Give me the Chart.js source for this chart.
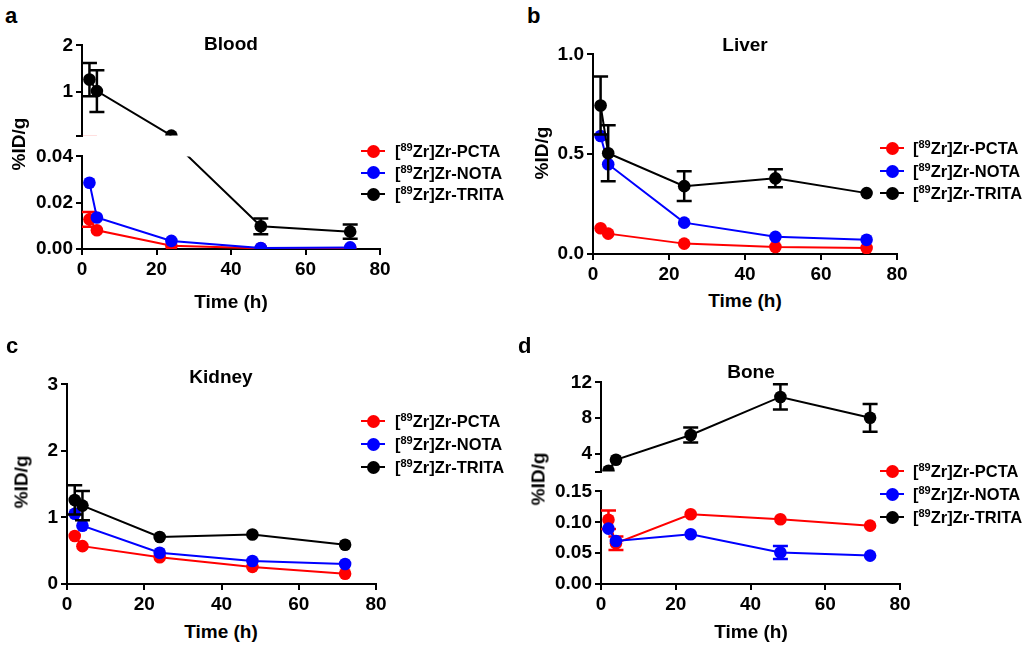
<!DOCTYPE html>
<html>
<head>
<meta charset="utf-8">
<script src="https://cdn.jsdelivr.net/npm/chart.js@4.4.1/dist/chart.umd.min.js"></script>
<style>
  body { margin: 0; background: #fff; }
  #fig { position: relative; width: 1030px; height: 647px; overflow: hidden;
         font-family: "Liberation Sans", Arial, sans-serif; font-weight: bold; color: #000; }
  #fig canvas { position: absolute; }
  .txt { position: absolute; white-space: nowrap; line-height: 1; }
  .ctr { transform: translate(-50%, -50%); }
  .rot { transform: translate(-50%, -50%) rotate(-90deg); }
  .letter { font-size: 22px; }
  .title { font-size: 19px; }
  .leg { font-size: 16.5px; transform: translateY(-50%); }
  .leg sup { font-size: 11px; vertical-align: 6px; line-height: 0; }
  .mk { position: absolute; width: 24px; height: 2px; margin-top: -1px; }
  .mk i { position: absolute; left: 5.5px; top: -5.5px; width: 13px; height: 13px; border-radius: 50%; background: inherit; }
</style>
</head>
<body>
<div id="fig"></div>
<script>
// sampling times (h)
const times = [2, 4, 24, 48, 72];
const xTicks = [0, 20, 40, 60, 80];
const seriesNames = ['PCTA', 'NOTA', 'TRITA'];
const seriesColors = ['#ff0000', '#0000ff', '#000000'];

// Blood (%ID/g)
const bloodPCTA = [0.0128, 0.0081, 0.0014, 0.0003, 0.0003];
const bloodPCTAErr = [0.0032, 0, 0, 0, 0];
const bloodNOTA = [0.0286, 0.0136, 0.0035, 0.0004, 0.0007];
const bloodNOTAErr = [0, 0, 0, 0, 0];
const bloodTRITA = [1.26, 1.01, 0.047, 0.0098, 0.0075];
const bloodTRITAErr = [0.36, 0.45, 0, 0.0034, 0.0031];
const bloodTicksLow = [0, 0.02, 0.04];
const bloodTicksHigh = [0.047, 1, 2];

// Liver
const liverPCTA = [0.129, 0.102, 0.052, 0.035, 0.030];
const liverPCTAErr = [0, 0, 0, 0, 0];
const liverNOTA = [0.591, 0.450, 0.157, 0.086, 0.071];
const liverNOTAErr = [0, 0, 0, 0, 0];
const liverTRITA = [0.744, 0.505, 0.340, 0.379, 0.305];
const liverTRITAErr = [0.145, 0.14, 0.074, 0.045, 0];
const liverTicks = [0, 0.5, 1.0];

// Kidney
const kidneyPCTA = [0.722, 0.569, 0.401, 0.257, 0.153];
const kidneyPCTAErr = [0, 0, 0, 0, 0];
const kidneyNOTA = [1.055, 0.876, 0.470, 0.346, 0.300];
const kidneyNOTAErr = [0, 0, 0, 0, 0];
const kidneyTRITA = [1.263, 1.178, 0.707, 0.743, 0.589];
const kidneyTRITAErr = [0.22, 0.22, 0, 0, 0];
const kidneyTicks = [0, 1, 2, 3];

// Bone
const bonePCTA = [0.104, 0.066, 0.113, 0.105, 0.0945];
const bonePCTAErr = [0.015, 0.011, 0, 0, 0];
const boneNOTA = [0.0897, 0.0696, 0.0805, 0.051, 0.046];
const boneNOTAErr = [0, 0, 0, 0.0105, 0];
const boneTRITA = [2.1, 3.33, 6.1, 10.37, 8.03];
const boneTRITAErr = [0, 0, 0.83, 1.42, 1.55];
const boneTicksLow = [0, 0.05, 0.10, 0.15];
const boneTicksHigh = [2, 4, 8, 12];

const FONT = '"Liberation Sans", Arial, sans-serif';
const fig = document.getElementById('fig');
const YW = 70, PT = 12, PR = 16, PB = 12, XH = 34;

// error bars drawn right before each dataset so points sit on top
const errorBars = {
  id: 'errorBars',
  beforeDatasetDraw(chart, args) {
    const ds = chart.data.datasets[args.index];
    if (!ds.errors) return;
    const { ctx, chartArea: a, scales: { x, y } } = chart;
    ctx.save();
    ctx.beginPath();
    ctx.rect(a.left - 12, a.top, a.right - a.left + 24, a.bottom - a.top);
    ctx.clip();
    ctx.strokeStyle = ds.borderColor;
    ctx.lineWidth = 2.5;
    ds.data.forEach((p, i) => {
      const e = ds.errors[i];
      if (!e) return;
      const px = x.getPixelForValue(p.x);
      const hi = y.getPixelForValue(p.y + e), lo = y.getPixelForValue(p.y - e);
      ctx.beginPath();
      ctx.moveTo(px, hi); ctx.lineTo(px, lo);
      ctx.moveTo(px - 7.5, hi); ctx.lineTo(px + 7.5, hi);
      ctx.moveTo(px - 7.5, lo); ctx.lineTo(px + 7.5, lo);
      ctx.stroke();
    });
    ctx.restore();
  }
};

function makeDatasets(vals, errs, yMin, yMax) {
  // points / line pieces lying outside this axis segment are left out of it
  const eps = 1e-9;
  const radius = c => {
    const v = c.raw ? c.raw.y : null;
    return v == null || v < yMin - eps || v > yMax + eps ? 0 : 6.3;
  };
  const pieceColor = c => {
    const a = c.p0.parsed.y, b = c.p1.parsed.y;
    if ((a <= yMin + eps && b <= yMin + eps) || (a >= yMax - eps && b >= yMax - eps)) return 'rgba(0,0,0,0)';
    return undefined;
  };
  return vals.map((v, k) => ({
    label: seriesNames[k],
    data: times.map((t, i) => ({ x: t, y: v[i] })),
    errors: errs[k],
    borderColor: seriesColors[k],
    backgroundColor: seriesColors[k],
    pointBackgroundColor: seriesColors[k],
    pointBorderWidth: 0,
    pointRadius: radius,
    borderWidth: 2,
    segment: { borderColor: pieceColor },
    order: 3 - k,
    clip: { left: 12, right: 12, top: 0, bottom: 0 }
  }));
}

function axisStyle(fmt) {
  return {
    grid: { display: true, drawOnChartArea: false, drawTicks: true, tickLength: 6, color: '#000', lineWidth: 2 },
    border: { display: true, color: '#000', width: 2 },
    ticks: { color: '#000', font: { family: FONT, size: 19, weight: 'bold' }, padding: 3,
             autoSkip: false, maxRotation: 0, callback: fmt }
  };
}

function segment(box, yTicks, fmt, showX, vals, errs) {
  const yMin = yTicks[0], yMax = yTicks[yTicks.length - 1];
  const canvas = document.createElement('canvas');
  const w = box.right - box.left + YW + PR;
  const h = box.bottom - box.top + PT + (showX ? XH : PB);
  canvas.width = w; canvas.height = h;
  canvas.style.left = (box.left - YW) + 'px';
  canvas.style.top = (box.top - PT) + 'px';
  fig.appendChild(canvas);

  new Chart(canvas, {
    type: 'line',
    data: { datasets: makeDatasets(vals, errs, yMin, yMax) },
    plugins: [errorBars],
    options: {
      responsive: false,
      animation: false,
      events: [],
      layout: { padding: { top: PT, right: PR, left: 0, bottom: showX ? 0 : PB } },
      plugins: { legend: { display: false }, tooltip: { enabled: false } },
      scales: {
        x: Object.assign(axisStyle(v => String(v)), {
          type: 'linear', min: 0, max: 80, display: showX,
          afterBuildTicks: s => { s.ticks = xTicks.map(v => ({ value: v })); },
          afterFit: s => { s.height = showX ? XH : 0; }
        }),
        y: Object.assign(axisStyle(fmt), {
          type: 'linear', min: yMin, max: yMax,
          afterBuildTicks: s => { s.ticks = yTicks.map(v => ({ value: v })); },
          afterFit: s => { s.width = YW; }
        })
      }
    }
  });
}

function text(html, x, y, cls) {
  const d = document.createElement('div');
  d.className = 'txt ' + cls;
  d.style.left = x + 'px';
  d.style.top = y + 'px';
  d.innerHTML = html;
  fig.appendChild(d);
}

function legend(markX, textX, rows) {
  seriesNames.forEach((n, k) => {
    const m = document.createElement('div');
    m.className = 'mk';
    m.style.left = (markX - 12) + 'px';
    m.style.top = rows[k] + 'px';
    m.style.background = seriesColors[k];
    m.appendChild(document.createElement('i'));
    fig.appendChild(m);
    text('[<sup>89</sup>Zr]Zr-' + n, textX, rows[k], 'leg');
  });
}

function panel(p) {
  text(p.letter, p.letterX, p.letterY, 'letter');
  text(p.title, p.titleX, p.titleY, 'title ctr');
  text('%ID/g', p.yTitleX, p.yTitleY, 'title rot');
  text('Time (h)', p.titleX, p.xTitleY, 'title ctr');
  legend(p.markX, p.textX, p.legendRows);
}

const fmt2 = v => v.toFixed(2);
const fmt1 = v => v.toFixed(1);
const fmtSkipFirst = (v, i) => (i === 0 ? '' : String(v));

// a: Blood (broken axis)
const blood = [[bloodPCTA, bloodNOTA, bloodTRITA], [bloodPCTAErr, bloodNOTAErr, bloodTRITAErr]];
segment({ left: 82, right: 380, top: 43, bottom: 138 }, bloodTicksHigh, fmtSkipFirst, false, ...blood);
segment({ left: 82, right: 380, top: 154, bottom: 249 }, bloodTicksLow, fmt2, true, ...blood);
panel({ letter: 'a', letterX: 5, letterY: 5, title: 'Blood', titleX: 231, titleY: 43,
  yTitleX: 18, yTitleY: 144, xTitleY: 301, markX: 373, textX: 395, legendRows: [151, 172.5, 194] });

// b: Liver
segment({ left: 593, right: 897, top: 52, bottom: 254 }, liverTicks, fmt1, true,
  [liverPCTA, liverNOTA, liverTRITA], [liverPCTAErr, liverNOTAErr, liverTRITAErr]);
panel({ letter: 'b', letterX: 527, letterY: 5, title: 'Liver', titleX: 745, titleY: 44,
  yTitleX: 541, yTitleY: 153, xTitleY: 300, markX: 892, textX: 913, legendRows: [148, 171, 193] });

// c: Kidney
segment({ left: 67, right: 376, top: 382, bottom: 584 }, kidneyTicks, v => String(v), true,
  [kidneyPCTA, kidneyNOTA, kidneyTRITA], [kidneyPCTAErr, kidneyNOTAErr, kidneyTRITAErr]);
panel({ letter: 'c', letterX: 6, letterY: 335, title: 'Kidney', titleX: 221, titleY: 376,
  yTitleX: 21, yTitleY: 482, xTitleY: 631, markX: 373, textX: 395, legendRows: [421, 444, 467] });

// d: Bone (broken axis)
const bone = [[bonePCTA, boneNOTA, boneTRITA], [bonePCTAErr, boneNOTAErr, boneTRITAErr]];
segment({ left: 601, right: 900, top: 380, bottom: 474 }, boneTicksHigh, fmtSkipFirst, false, ...bone);
segment({ left: 601, right: 900, top: 489, bottom: 584 }, boneTicksLow, fmt2, true, ...bone);
panel({ letter: 'd', letterX: 518, letterY: 335, title: 'Bone', titleX: 751, titleY: 371,
  yTitleX: 538, yTitleY: 479, xTitleY: 631, markX: 892, textX: 913, legendRows: [471, 494, 517] });
</script>
</body>
</html>
